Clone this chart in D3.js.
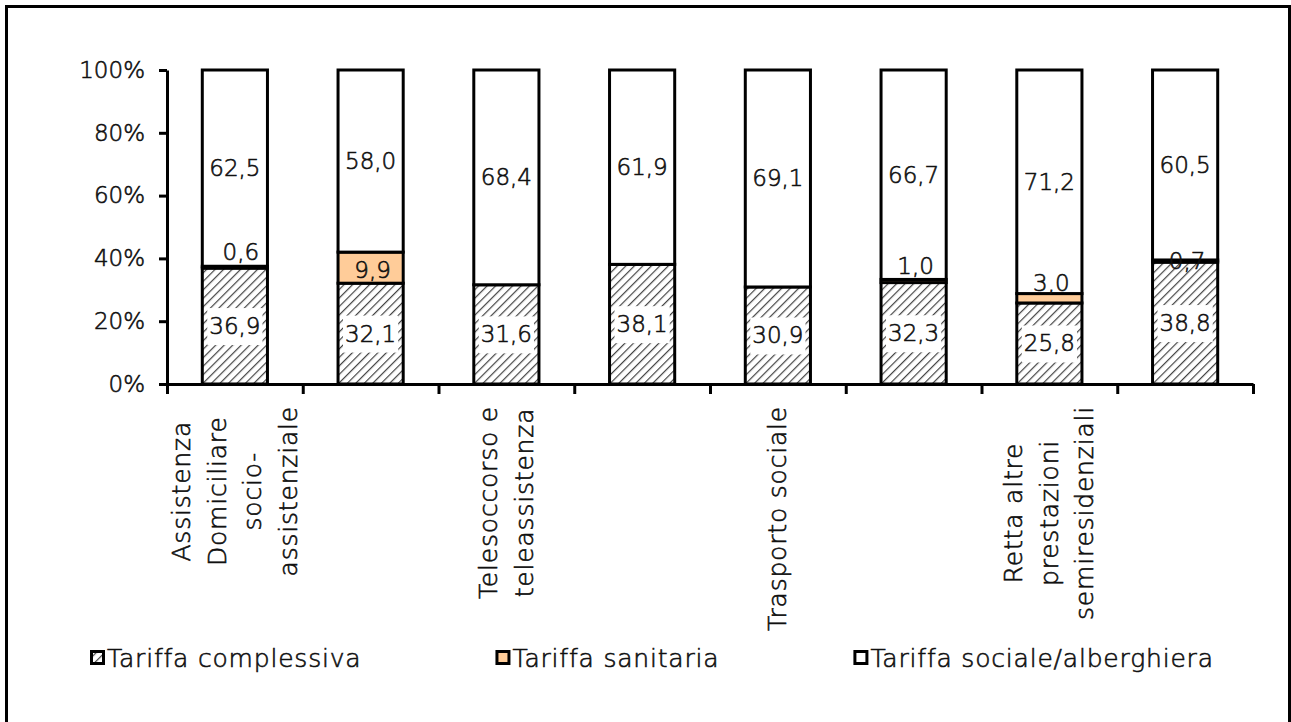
<!DOCTYPE html>
<html>
<head>
<meta charset="utf-8">
<script src="https://cdn.jsdelivr.net/npm/d3@7"></script>
<style>
  html, body { margin: 0; padding: 0; background: #fff; }
  svg { display: block; }
  text { font-family: "DejaVu Sans", sans-serif; font-weight: 300; fill: #111; stroke: #111; stroke-width: 0.6px; }
</style>
</head>
<body>
<svg id="chart" width="1291" height="722"></svg>
<script>
// ---- data ----
const categoryLabels = [
  "Assistenza\nDomiciliare\nsocio-\nassistenziale",
  "",
  "Telesoccorso e\nteleassistenza",
  "",
  "Trasporto sociale",
  "",
  "Retta altre\nprestazioni\nsemiresidenziali",
  ""
];
const seriesNames = ["Tariffa complessiva", "Tariffa sanitaria", "Tariffa sociale/alberghiera"];
const tariffaComplessiva = [36.9, 32.1, 31.6, 38.1, 30.9, 32.3, 25.8, 38.8];
const tariffaSanitaria   = [0.6, 9.9, 0, 0, 0, 1.0, 3.0, 0.7];
const tariffaSociale     = [62.5, 58.0, 68.4, 61.9, 69.1, 66.7, 71.2, 60.5];
const yTicks = [0, 20, 40, 60, 80, 100];

// ---- setup ----
const FS = "25px", LS = "0.8px";   // words
const NFS = "23px";                // numbers
const svg = d3.select("#chart");
const fmt = v => v.toFixed(1).replace(".", ",");

// frame
svg.append("path")
  .attr("d", "M6.5,730 L6.5,6.5 L1289.5,6.5 L1289.5,730")
  .attr("fill", "none").attr("stroke", "#000").attr("stroke-width", 3);

const defs = svg.append("defs");
const pat = defs.append("pattern")
  .attr("id", "hatch").attr("patternUnits", "userSpaceOnUse")
  .attr("width", 6).attr("height", 6)
  .attr("patternTransform", "rotate(45)");
pat.append("rect").attr("width", 6).attr("height", 6).attr("fill", "#fff");
pat.append("line").attr("x1", 0).attr("y1", 0).attr("x2", 0).attr("y2", 6)
  .attr("stroke", "#444").attr("stroke-width", 2.4);

const idx = d3.range(categoryLabels.length);
const x = d3.scaleBand().domain(idx).range([167, 1253]).paddingInner(0.52).paddingOuter(0.26);
const xEdge = d3.scaleLinear().domain([0, idx.length]).range([167, 1253]);
const y = d3.scaleLinear().domain([0, 100]).range([384, 70]);

const rows = idx.map(i => ({ i, c: tariffaComplessiva[i], s: tariffaSanitaria[i], a: tariffaSociale[i] }));
const stack = d3.stack().keys(["c", "s", "a"])(rows);
const fills = { c: "url(#hatch)", s: "#FFCC99", a: "#fff" };

const g = svg.append("g");
stack.forEach(layer => {
  g.selectAll(null).data(layer.filter(d => d[1] - d[0] > 0)).enter().append("rect")
    .attr("x", d => x(d.data.i))
    .attr("width", x.bandwidth())
    .attr("y", d => y(d[1]))
    .attr("height", d => y(d[0]) - y(d[1]))
    .attr("fill", fills[layer.key])
    .attr("stroke", "#000").attr("stroke-width", 3);
});

// axes
const yAxis = svg.append("g").attr("transform", "translate(167,0)")
  .call(d3.axisLeft(y).tickValues(yTicks).tickFormat(d => d + "%").tickSize(8).tickSizeOuter(0).tickPadding(14));
yAxis.select(".domain").attr("stroke-width", 3);
yAxis.selectAll(".tick line").attr("stroke-width", 3);
yAxis.selectAll("text").style("font-size", NFS).attr("fill", "#111")
  .style("font-family", "'DejaVu Sans', sans-serif");

const xAxis = svg.append("g").attr("transform", "translate(0,384)")
  .call(d3.axisBottom(xEdge).ticks(idx.length).tickFormat("").tickSize(10).tickSizeOuter(0));
xAxis.select(".domain").attr("stroke-width", 3);
xAxis.selectAll(".tick line").attr("stroke-width", 3);

// data labels
const lab = svg.append("g").style("font-size", NFS);
rows.forEach(r => {
  const cx = x(r.i) + x.bandwidth() / 2;
  const cy = (y(0) + y(r.c)) / 2;
  const t = lab.append("text").attr("x", cx).attr("y", cy)
    .attr("text-anchor", "middle").attr("dominant-baseline", "central").text(fmt(r.c));
  const w = t.node().getComputedTextLength();
  lab.insert("rect", "text").attr("x", cx - w / 2 - 2).attr("y", cy - 18)
    .attr("width", w + 4).attr("height", 37).attr("fill", "#fff");
});
rows.filter(r => r.s > 0).forEach(r => {
  const cx = x(r.i) + x.bandwidth() / 2;
  const mid = (y(r.c) + y(r.c + r.s)) / 2;
  const cy = r.s > 5 ? mid + 2 : (r.i === 7 ? mid : mid - 15);
  lab.append("text").attr("x", cx + (r.i === 0 ? 6 : 2)).attr("y", cy)
    .attr("text-anchor", "middle").attr("dominant-baseline", "central").text(fmt(r.s));
});
rows.forEach(r => {
  const cx = x(r.i) + x.bandwidth() / 2;
  const cy = (y(r.c + r.s) + y(100)) / 2;
  lab.append("text").attr("x", cx).attr("y", cy)
    .attr("text-anchor", "middle").attr("dominant-baseline", "central").text(fmt(r.a));
});

// category labels (rotated, top-aligned, lines centered)
idx.forEach(i => {
  if (!categoryLabels[i]) return;
  const lines = categoryLabels[i].split("\n");
  const cg = svg.append("g")
    .attr("transform", `translate(${x(i) + x.bandwidth() / 2},406) rotate(-90)`)
    .style("font-size", FS).style("letter-spacing", LS);
  const ts = lines.map((ln, k) => cg.append("text")
    .attr("y", (k - (lines.length - 1) / 2) * 35.5)
    .attr("dominant-baseline", "central")
    .attr("text-anchor", "middle").text(ln));
  const maxLen = d3.max(ts, t => t.node().getComputedTextLength());
  ts.forEach(t => t.attr("x", -maxLen / 2));
});

// legend: items laid out left to right with equal gaps
const legendFill = ["url(#hatch)", "#FFCC99", "#fff"];
let lx = 90;
seriesNames.forEach((n, k) => {
  const lg = svg.append("g").attr("transform", `translate(${lx},658)`);
  lg.append("rect").attr("x", 1.5).attr("y", -6.5).attr("width", 12).attr("height", 12)
    .attr("fill", legendFill[k]).attr("stroke", "#000").attr("stroke-width", 3);
  const t = lg.append("text").attr("x", 17).attr("y", 0).attr("dominant-baseline", "central")
    .style("font-size", FS).style("letter-spacing", LS).text(n);
  lx += 17 + t.node().getComputedTextLength() + 134;
});
</script>
</body>
</html>
